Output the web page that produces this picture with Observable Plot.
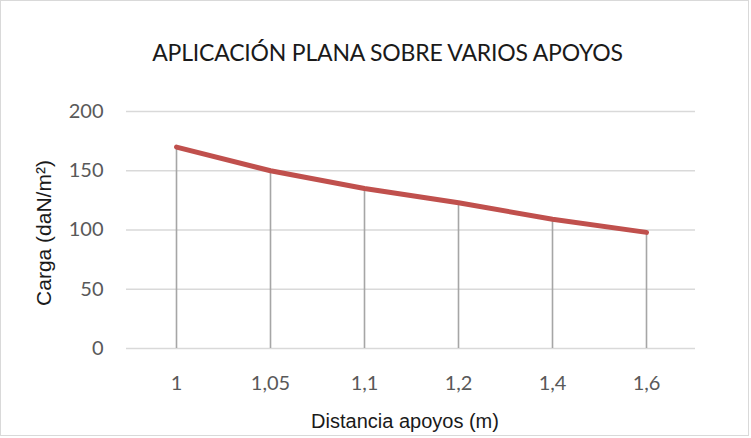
<!DOCTYPE html>
<html><head><meta charset="utf-8">
<script src="https://cdn.jsdelivr.net/npm/d3@7"></script>
<script src="https://cdn.jsdelivr.net/npm/@observablehq/plot@0.6"></script>
<style>
body{margin:0;background:#fff;}
#wrap{position:absolute;left:0;top:0;width:747px;height:434px;border:1px solid #d9d9d9;background:#fff;}
#title{height:89px;position:relative;font-family:Lato,sans-serif;font-size:23px;color:#1a1a1a;line-height:1;}
#title span{position:absolute;left:26px;right:0;top:40px;text-align:center;letter-spacing:-0.2px;}
</style></head><body>
<div id="wrap"><div id="title"><span>APLICACIÓN PLANA SOBRE VARIOS APOYOS</span></div><div id="chart"></div></div>
<script>
const categories = ["1", "1,05", "1,1", "1,2", "1,4", "1,6"];
const carga = [170, 150, 135, 123, 109, 98];
const yTicks = [0, 50, 100, 150, 200];
const xTitle = "Distancia apoyos (m)";
const yTitle = "Carga (daN/m²)";

const data = categories.map((c, i) => ({d: c, v: carga[i]}));

const plot = Plot.plot({
  width: 747,
  height: 345,
  marginTop: 21,
  marginBottom: 87,
  marginLeft: 125,
  marginRight: 53,
  style: {fontFamily: "Lato, sans-serif", fontSize: "20px", color: "#595959", background: "transparent"},
  x: {type: "band", domain: categories, padding: 0, label: null},
  y: {domain: [0, 200], ticks: yTicks, label: null},
  marks: [
    Plot.gridY(yTicks, {stroke: "#d9d9d9", strokeOpacity: 1, strokeWidth: 1.6}),
    Plot.axisY(yTicks, {tickSize: 0, tickPadding: 23, fill: "#595959", fontSize: 20}),
    Plot.axisX({tickSize: 0, tickPadding: 27, fill: "#595959", fontSize: 20}),
    Plot.ruleX(data, {x: "d", y1: 0, y2: "v", stroke: "#a6a6a6", strokeWidth: 1.6}),
    Plot.lineY(data, {x: "d", y: "v", stroke: "#c0504d", strokeWidth: 5, strokeLinecap: "round", strokeLinejoin: "round"}),
    Plot.text([xTitle], {frameAnchor: "bottom", dy: 79, dx: -6, text: d => d, fontFamily: "Liberation Sans, Arial, sans-serif", fontSize: 20, fill: "#1a1a1a"}),
    Plot.text([yTitle], {frameAnchor: "left", textAnchor: "middle", dx: -82, dy: 3, rotate: -90, text: d => d, fontFamily: "Liberation Sans, Arial, sans-serif", fontSize: 21, fill: "#1a1a1a"})
  ]
});
document.getElementById("chart").appendChild(plot);
</script>
</body></html>
